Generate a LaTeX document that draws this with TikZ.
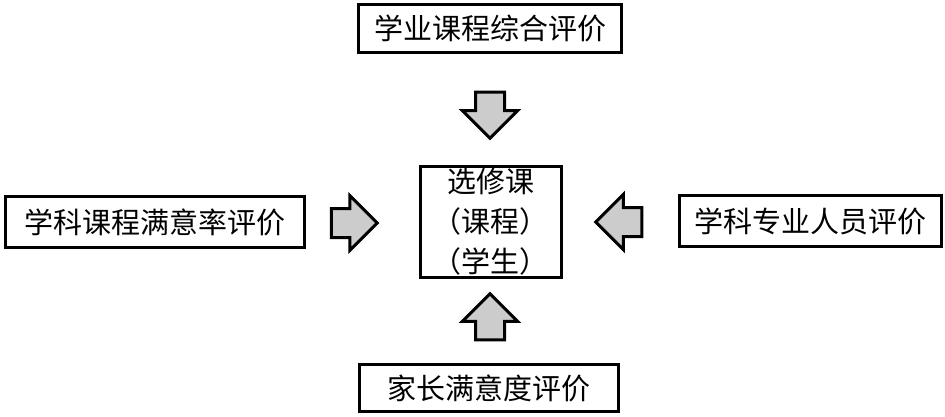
\documentclass[tikz,border=0pt]{standalone}
\usepackage{fontspec}
\newfontfamily\cjk{Noto Sans CJK SC}
\usetikzlibrary{shapes.arrows}

\begin{document}
\begin{tikzpicture}[x=1pt,y=-1pt,line width=3pt,
                    font=\cjk\fontsize{29}{40}\selectfont]
  \tikzstyle{box}=[draw,fill=white,inner sep=0pt,align=center]
  \tikzstyle{blockarrow}=[draw,fill=gray!40,single arrow,inner sep=13pt,
                          single arrow head extend=13pt,minimum height=46pt]

  \useasboundingbox (0,0) rectangle (945,417);

  \node[box,minimum width=141pt,minimum height=111pt] (A) at (490.5,221.5)
       {选修课\\（课程）\\（学生）};
  \node[box,minimum width=263pt,minimum height=48pt] (B) at (490,28.5) {学业课程综合评价};
  \node[box,minimum width=299pt,minimum height=51pt] (C) at (155,222) {学科课程满意率评价};
  \node[box,minimum width=262pt,minimum height=51pt] (D) at (810.5,221) {学科专业人员评价};
  \node[box,minimum width=259pt,minimum height=47pt] (E) at (489,388) {家长满意度评价};

  \node[blockarrow,shape border rotate=270] (BA) at (490,108) {};
  \node[blockarrow,shape border rotate=0]   (CA) at (347,223) {};
  \node[blockarrow,shape border rotate=180] (DA) at (626,222) {};
  \node[blockarrow,shape border rotate=90]  (EA) at (490,324) {};
\end{tikzpicture}
\end{document}
